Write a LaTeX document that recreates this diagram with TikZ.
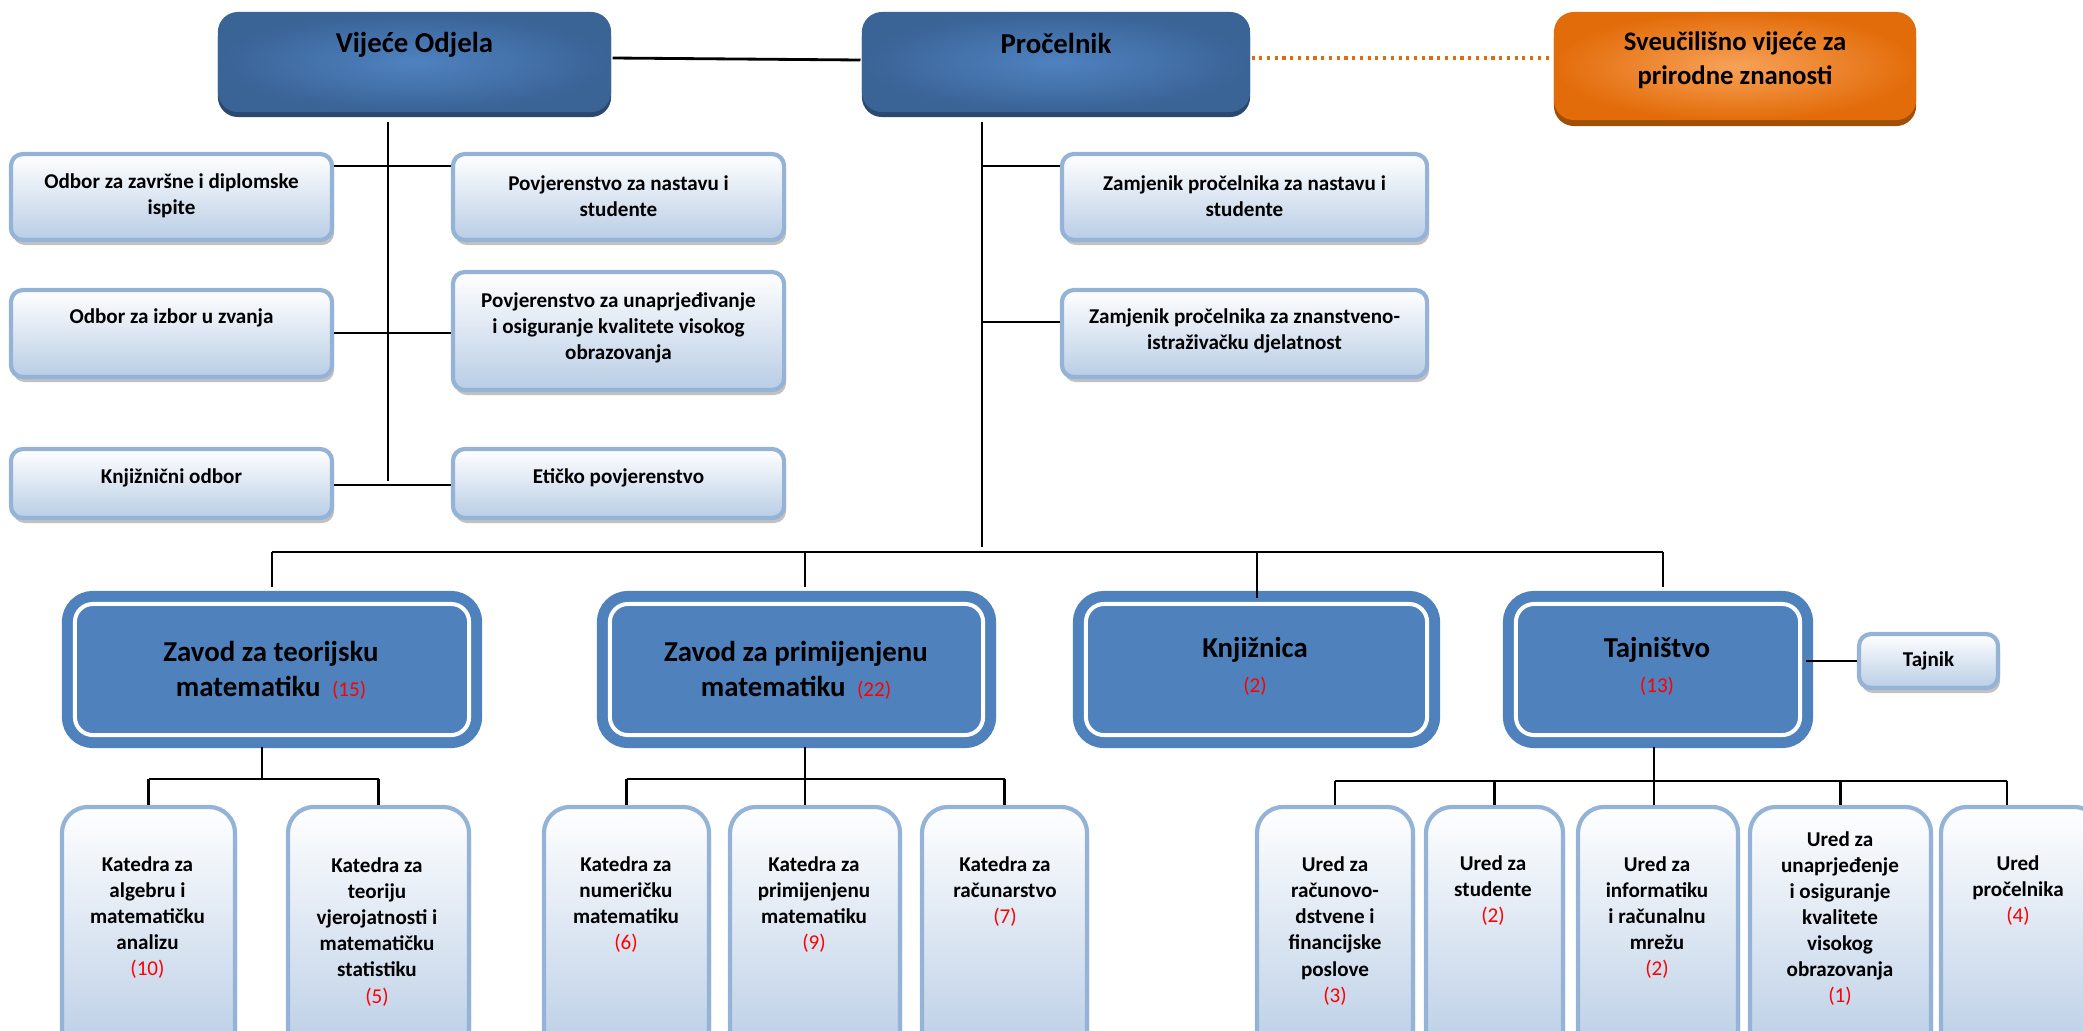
\documentclass[tikz,border=0pt]{standalone}
\usepackage{fontspec}
\setmainfont{Carlito}
\usepackage{tikz}
\usetikzlibrary{shadows}

\definecolor{tbin}{HTML}{4F82C0}
\definecolor{tbout}{HTML}{3A6396}
\definecolor{tbdark}{HTML}{2A4870}
\definecolor{orin}{HTML}{F7A258}
\definecolor{orout}{HTML}{E36C0A}
\definecolor{ordark}{HTML}{A04F06}
\definecolor{lborder}{HTML}{95B3D7}
\definecolor{lfill}{HTML}{B9CDE5}
\definecolor{zblue}{HTML}{4F81BD}

\newcommand{\redn}[1]{{\color{red}\mdseries(#1)}}

\tikzset{
  topbox/.style={rounded corners=0.2cm,inner sep=0pt,inner color=tbin,outer color=tbout,
    drop shadow={shadow xshift=0cm,shadow yshift=-0.05cm,fill=tbdark,opacity=1}},
  orbox/.style={rounded corners=0.2cm,inner sep=0pt,inner color=orin,outer color=orout,
    drop shadow={shadow xshift=0cm,shadow yshift=-0.06cm,fill=ordark,opacity=1}},
  lbox/.style={draw=lborder,line width=1.2pt,rounded corners=0.12cm,inner sep=0pt,
    top color=white,bottom color=lfill,
    drop shadow={shadow xshift=0.02cm,shadow yshift=-0.05cm,fill=gray!70,opacity=0.7}},
  katbox/.style={lbox,rounded corners=0.26cm},
  zavod/.style={draw=zblue,double=white,double distance=0.04cm,line width=0.11cm,
    fill=zblue,rounded corners=0.18cm,inner sep=0pt},
  ttl/.style={font=\fontsize{8.2}{10}\selectfont\bfseries,align=center,inner sep=0pt},
  lbl/.style={font=\fontsize{6}{7.4}\selectfont\bfseries,align=center,inner sep=0pt},
  dotline/.style={draw=orout,line width=0.9pt,dash pattern=on 0.9pt off 1.3pt},
}

\begin{document}
\begin{tikzpicture}[x=0.01cm,y=-0.01cm,thick]
\useasboundingbox (0,0) rectangle (2083,1030);
\clip (0,0) rectangle (2083,1030);

% top row
\node[topbox,minimum width=3.93cm,minimum height=1.0cm] (vijece) at (414.5,62) {};
\node[ttl] (t-vijece) at (414.5,45) {Vijeće Odjela};
\node[topbox,minimum width=3.88cm,minimum height=1.0cm] (procelnik) at (1056,62) {};
\node[ttl] (t-procelnik) at (1056,43) {Pročelnik};
\node[orbox,minimum width=3.62cm,minimum height=1.08cm] (svv) at (1735,66) {};
\node[ttl,font=\fontsize{7.6}{9.6}\selectfont\bfseries] (t-svv) at (1735,60) {Sveučilišno vijeće za\\prirodne znanosti};

\draw ([yshift=0.04cm]vijece.east) -- ([yshift=0.02cm]procelnik.west);
\draw[dotline] ([yshift=0.04cm]procelnik.east) -- ([yshift=0.04cm]procelnik.east -| svv.west);

% odbori i povjerenstva
\node[lbox,minimum width=3.21cm,minimum height=0.86cm] (odbor1) at (171.5,197) {};
\node[lbl] (t-odbor1) at (171.5,196) {Odbor za završne i diplomske\\ispite};
\node[lbox,minimum width=3.21cm,minimum height=0.87cm] (odbor2) at (171.5,333.5) {};
\node[lbl] (t-odbor2) at (171.5,318) {Odbor za izbor u zvanja};
\node[lbox,minimum width=3.21cm,minimum height=0.69cm] (knjodbor) at (171.5,483.5) {};
\node[lbl] (t-knjodbor) at (171.5,478) {Knjižnični odbor};
\node[lbox,minimum width=3.31cm,minimum height=0.86cm] (povj1) at (618.5,197) {};
\node[lbl] (t-povj1) at (618.5,196) {Povjerenstvo za nastavu i\\studente};
\node[lbox,minimum width=3.31cm,minimum height=1.18cm] (povj2) at (618.5,331) {};
\node[lbl] (t-povj2) at (618.5,328) {Povjerenstvo za unaprjeđivanje\\i osiguranje kvalitete visokog\\obrazovanja};
\node[lbox,minimum width=3.31cm,minimum height=0.69cm] (eticko) at (618.5,483.5) {};
\node[lbl] (t-eticko) at (618.5,478) {Etičko povjerenstvo};

\coordinate (vtop) at (388,122);
\coordinate (vbot) at (388,481);
\coordinate (v1) at (388,166);
\coordinate (v2) at (388,333);
\coordinate (v3) at (388,485);
\draw (vtop) -- (vbot);
\draw (odbor1.east |- v1) -- (povj1.west |- v1);
\draw (odbor2.east |- v2) -- (povj2.west |- v2);
\draw (knjodbor.east |- v3) -- (eticko.west |- v3);

% zamjenici
\node[lbox,minimum width=3.65cm,minimum height=0.86cm] (zam1) at (1244.5,197) {};
\node[lbl] (t-zam1) at (1244.5,196) {Zamjenik pročelnika za nastavu i\\studente};
\node[lbox,minimum width=3.65cm,minimum height=0.87cm] (zam2) at (1244.5,333.5) {};
\node[lbl] (t-zam2) at (1244.5,331) {Zamjenik pročelnika za znanstveno-\\istraživačku djelatnost};

\coordinate (ptop) at (982,122);
\coordinate (pbot) at (982,547);
\coordinate (p1) at (982,166);
\coordinate (p2) at (982,322);
\draw (ptop) -- (pbot);
\draw (p1) -- (zam1.west |- p1);
\draw (p2) -- (zam2.west |- p2);

% zavodi
\node[zavod,minimum width=3.94cm,minimum height=1.31cm] (zt) at (272,669.5) {};
\node[ttl] (t-zt) at (271,670) {Zavod za teorijsku\\matematiku \,{\fontsize{6}{10}\selectfont\redn{15}}};
\node[zavod,minimum width=3.73cm,minimum height=1.31cm] (zp) at (796.5,669.5) {};
\node[ttl] (t-zp) at (796,670) {Zavod za primijenjenu\\matematiku \,{\fontsize{6}{10}\selectfont\redn{22}}};
\node[zavod,minimum width=3.41cm,minimum height=1.31cm] (knj) at (1256.5,669.5) {};
\node[ttl] (t-knj) at (1255,666) {Knjižnica\\{\fontsize{6}{8.5}\selectfont\redn{2}}};
\node[zavod,minimum width=2.84cm,minimum height=1.31cm] (taj) at (1658,669.5) {};
\node[ttl] (t-taj) at (1657,666) {Tajništvo\\{\fontsize{6}{8.5}\selectfont\redn{13}}};
\node[lbox,minimum width=1.39cm,minimum height=0.54cm] (tajnik) at (1928.5,661) {};
\node[lbl] (t-tajnik) at (1928.5,661) {Tajnik};

\coordinate (busl) at (272,552);
\coordinate (busr) at (1663,552);
\coordinate (b2) at (805,552);
\coordinate (b3) at (1257,552);
\draw (busl) -- (busr);
\draw[shorten >=0.11cm] (busl) -- (busl |- zt.north);
\draw[shorten >=0.11cm] (b2) -- (b2 |- zp.north);
\draw (b3) -- (b3 |- knj.north);
\draw[shorten >=0.11cm] (busr) -- (busr |- taj.north);
\draw (taj.east |- tajnik) -- (tajnik.west);

% katedre
\node[katbox,minimum width=1.73cm,minimum height=2.53cm] (k1) at (148.5,933.5) {};
\node[lbl] (t-k1) at (147.5,917.5) {Katedra za\\algebru i\\matematičku\\analizu\\\redn{10}};
\node[katbox,minimum width=1.81cm,minimum height=2.53cm] (k2) at (378.5,933.5) {};
\node[lbl] (t-k2) at (377,932) {Katedra za\\teoriju\\vjerojatnosti i\\matematičku\\statistiku\\\redn{5}};
\node[katbox,minimum width=1.65cm,minimum height=2.53cm] (k3) at (626.5,933.5) {};
\node[lbl] (t-k3) at (626,904.5) {Katedra za\\numeričku\\matematiku\\\redn{6}};
\node[katbox,minimum width=1.70cm,minimum height=2.53cm] (k4) at (815,933.5) {};
\node[lbl] (t-k4) at (814,904.5) {Katedra za\\primijenjenu\\matematiku\\\redn{9}};
\node[katbox,minimum width=1.65cm,minimum height=2.53cm] (k5) at (1004.5,933.5) {};
\node[lbl] (t-k5) at (1005,891.5) {Katedra za\\računarstvo\\\redn{7}};

\coordinate (zts) at (262,747);
\coordinate (ztj) at (262,779);
\draw (zts) -- (ztj);
\draw (k1.north |- ztj) -- (k2.north |- ztj);
\draw (k1.north |- ztj) -- (k1.north);
\draw (k2.north |- ztj) -- (k2.north);

\coordinate (zps) at (805,747);
\coordinate (zpj) at (805,779);
\draw (zps) -- (zpj);
\draw (k3.north |- zpj) -- (k5.north |- zpj);
\draw (k3.north |- zpj) -- (k3.north);
\draw (zpj) -- (zpj |- k4.north);
\draw (k5.north |- zpj) -- (k5.north);

% uredi
\node[katbox,minimum width=1.56cm,minimum height=2.53cm] (u1) at (1335,933.5) {};
\node[lbl] (t-u1) at (1335,931) {Ured za\\računovo-\\dstvene i\\financijske\\poslove\\\redn{3}};
\node[katbox,minimum width=1.37cm,minimum height=2.53cm] (u2) at (1494.5,933.5) {};
\node[lbl] (t-u2) at (1493,890.5) {Ured za\\studente\\\redn{2}};
\node[katbox,minimum width=1.60cm,minimum height=2.53cm] (u3) at (1658,933.5) {};
\node[lbl] (t-u3) at (1657,917.5) {Ured za\\informatiku\\i računalnu\\mrežu\\\redn{2}};
\node[katbox,minimum width=1.81cm,minimum height=2.53cm] (u4) at (1840.5,933.5) {};
\node[lbl] (t-u4) at (1840,918.5) {Ured za\\unaprjeđenje\\i osiguranje\\kvalitete\\visokog\\obrazovanja\\\redn{1}};
\node[katbox,minimum width=1.59cm,minimum height=2.53cm] (u5) at (2020.5,933.5) {};
\node[lbl] (t-u5) at (2018,890.5) {Ured\\pročelnika\\\redn{4}};

\coordinate (tjs) at (1654,747);
\coordinate (tjj) at (1654,781);
\coordinate (tjr) at (2007,781);
\draw (tjs) -- (tjj);
\draw (u1.north |- tjj) -- (tjr);
\draw (u1.north |- tjj) -- (u1.north);
\draw (u2.north |- tjj) -- (u2.north);
\draw (tjj) -- (tjj |- u3.north);
\draw (u4.north |- tjj) -- (u4.north);
\draw (tjr) -- (tjr |- u5.north);
\end{tikzpicture}
\end{document}
